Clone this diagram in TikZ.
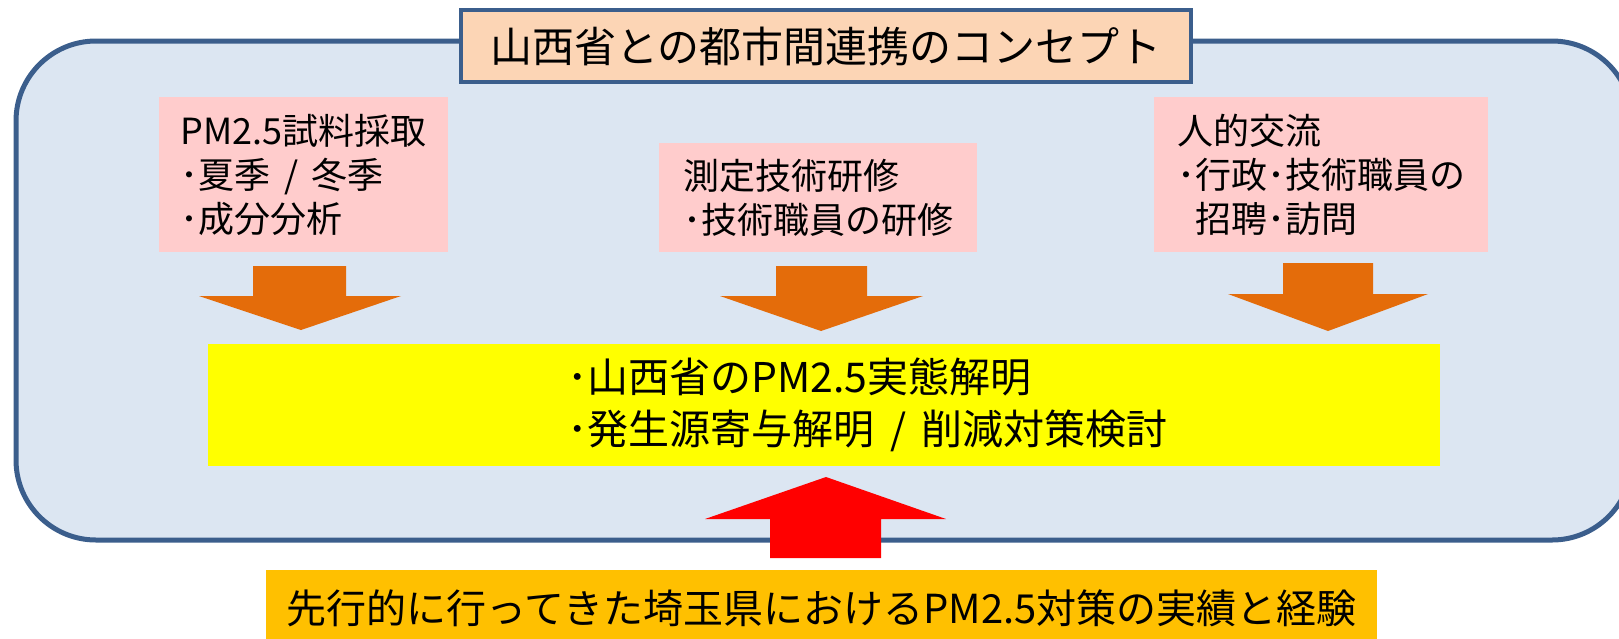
\documentclass[tikz,border=0pt]{standalone}
\usepackage{fontspec}
\setmainfont{Noto Sans CJK JP}
\definecolor{frameline}{HTML}{3B5E8C}
\definecolor{framefill}{HTML}{DCE6F2}
\definecolor{titlefill}{HTML}{FCD5B5}
\definecolor{pinkfill}{HTML}{FFCCCC}
\definecolor{arroworange}{HTML}{E46C0A}
\definecolor{arrowred}{HTML}{FF0000}
\definecolor{goldfill}{HTML}{FFC000}
\definecolor{yellowfill}{HTML}{FFFF00}
\newcommand\ind{\hspace*{339pt}}
\newcommand\sep{\hspace{0.38em}/\hspace{0.38em}}
\begin{document}
\begin{tikzpicture}[x=1pt,y=-1pt,
  outerframe/.style={draw=frameline, fill=framefill, line width=5pt, rounded corners=80pt,
    minimum width=1616pt, minimum height=499pt, inner sep=0pt},
  titlebox/.style={draw=frameline, fill=titlefill, line width=3.5pt, minimum width=730pt,
    minimum height=72pt, inner sep=0pt, font=\fontsize{42}{50}\selectfont},
  pinkbox/.style={fill=pinkfill, inner sep=0pt, align=left, font=\fontsize{36}{44}\selectfont},
  goalbox/.style={fill=yellowfill, inner xsep=20pt, inner ysep=0pt, text width=1192pt, align=left,
    minimum height=122pt, font=\fontsize{41}{52}\selectfont},
  basebox/.style={fill=goldfill, inner sep=0pt, minimum width=1111pt, minimum height=76pt,
    font=\fontsize{40}{48}\selectfont},
  orangearrow/.style={fill=arroworange},
  redarrow/.style={fill=arrowred}
]
\useasboundingbox (0,0) rectangle (1619,638);
\clip (0,0) rectangle (1619,638);

\node[outerframe] (frame) at (824,290.5) {};
\node[titlebox] (title) at (826,46) {山西省との都市間連携のコンセプト};

\node[pinkbox, minimum width=289pt, minimum height=155pt] (p1) at (303.5,174.5)
  {PM2.5試料採取\\･夏季\sep 冬季\\･成分分析};
\node[pinkbox, minimum width=318pt, minimum height=109pt] (p2) at (818,197.5)
  {測定技術研修\\･技術職員の研修};
\node[pinkbox, minimum width=334pt, minimum height=155pt] (p3) at (1321,174.5)
  {人的交流\\･行政･技術職員の\\\phantom{･}招聘･訪問};

\node[goalbox] (goal) at (824,405)
  {\ind ･山西省のPM2.5実態解明\\\ind ･発生源寄与解明\sep 削減対策検討};

\node[basebox] (base) at (821.5,608)
  {先行的に行ってきた埼玉県におけるPM2.5対策の実績と経験};

% block arrows
\fill[orangearrow] (253,266) -- (346,266) -- (346,296) -- (401,296) -- (301,330)
  -- (199,296) -- (253,296) -- cycle;
\fill[orangearrow] (776,266) -- (867,266) -- (867,296) -- (923,296) -- (821,331)
  -- (720,296) -- (776,296) -- cycle;
\fill[orangearrow] (1283,263) -- (1373,263) -- (1373,294) -- (1428,294) -- (1328,331)
  -- (1228,294) -- (1283,294) -- cycle;
\fill[redarrow] (770,558) -- (881,558) -- (881,519) -- (946,519) -- (826,477)
  -- (705,519) -- (770,519) -- cycle;
\end{tikzpicture}
\end{document}
